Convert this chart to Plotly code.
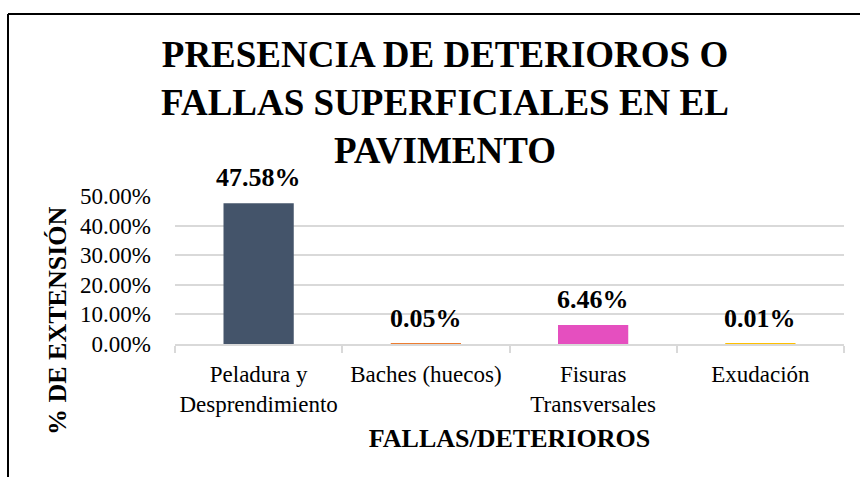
import plotly.graph_objects as go

categories = ["Peladura y<br>Desprendimiento", "Baches (huecos)", "Fisuras<br>Transversales", "Exudación"]
values = [0.4758, 0.0005, 0.0646, 0.0001]
labels = ["47.58%", "0.05%", "6.46%", "0.01%"]
colors = ["#44546A", "#ED7D31", "#E54FBF", "#FFC000"]
tick_vals = [0, 0.1, 0.2, 0.3, 0.4, 0.5]
tick_text = ["0.00%", "10.00%", "20.00%", "30.00%", "40.00%", "50.00%"]

SERIF = "Liberation Serif"

fig = go.Figure()
fig.add_trace(go.Bar(x=categories, y=values, marker=dict(color=colors, line=dict(width=0)),
                     width=0.42, hoverinfo="skip"))

for c, v, t in zip(categories, values, labels):
    fig.add_annotation(x=c, y=v, text="<b>%s</b>" % t, showarrow=False, yanchor="bottom",
                       yshift=9, font=dict(family=SERIF, size=26, color="#000000"))

W, H = 860, 477
L, R, T, B = 175, 16, 196, 133
pw = W - L - R
ph = H - T - B

def px(xp):
    return (xp - L) / pw

def py(yp):
    return (H - B - yp) / ph

# outer chart border (top and left edges visible)
fig.add_shape(type="line", xref="paper", yref="paper", x0=px(8), x1=px(870), y0=py(14), y1=py(14),
              line=dict(color="#000000", width=2))
fig.add_shape(type="line", xref="paper", yref="paper", x0=px(8), x1=px(8), y0=py(14), y1=py(490),
              line=dict(color="#000000", width=2))

# y-axis title (placed like the reference, offset from plot centre)
fig.add_annotation(xref="paper", yref="paper", x=px(57), y=py(321), text="<b>% DE EXTENSIÓN</b>",
                   textangle=-90, showarrow=False, xanchor="center", yanchor="middle",
                   font=dict(family=SERIF, size=26, color="#000000"))

fig.update_layout(
    width=W, height=H,
    margin=dict(l=L, r=R, t=T, b=B, autoexpand=False),
    paper_bgcolor="white", plot_bgcolor="white",
    showlegend=False,
    title=dict(text="<b>PRESENCIA DE DETERIOROS O<br>FALLAS SUPERFICIALES EN EL<br>PAVIMENTO</b>",
               x=445 / W, xref="container", xanchor="center", y=1 - 67 / H, yref="container", yanchor="middle",
               automargin=False, font=dict(family=SERIF, size=37, color="#000000")),
    font=dict(family=SERIF, color="#000000"),
)

fig.update_xaxes(showline=True, linecolor="#D9D9D9", linewidth=1.5, ticks="outside", tickson="boundaries",
                 ticklen=7, tickcolor="#D9D9D9", tickwidth=1.5, tickfont=dict(family=SERIF, size=23),
                 tickangle=0, automargin=False, ticklabelstandoff=9,
                 title=dict(text="<b>FALLAS/DETERIOROS</b>", font=dict(family=SERIF, size=26), standoff=13))
fig.update_yaxes(range=[0, 0.5], tickvals=tick_vals, ticktext=tick_text, showgrid=True, gridcolor="#D9D9D9",
                 gridwidth=1.5, zeroline=False, showline=False, tickfont=dict(family=SERIF, size=23),
                 automargin=False, ticklabelstandoff=23)

fig.write_html("out.html", config={"displayModeBar": False},
               post_script="document.body.style.margin='0';document.body.style.overflow='hidden';")
